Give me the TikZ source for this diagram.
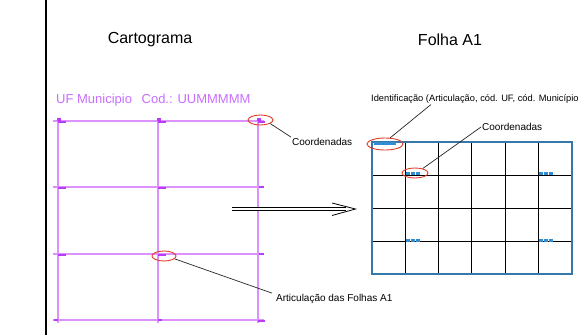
\documentclass[tikz,border=0pt]{standalone}
\usepackage{fontspec}
\setmainfont{Liberation Sans}
\usepackage{tikz}
\usetikzlibrary{shapes,positioning,calc}
\definecolor{gridpurple}{RGB}{220,145,255}
\definecolor{markpurple}{RGB}{185,60,250}
\definecolor{textpurple}{RGB}{200,110,255}
\definecolor{ringred}{RGB}{225,60,40}
\definecolor{frameblue}{RGB}{55,120,170}
\definecolor{markblue}{RGB}{50,140,210}
\tikzset{
  ring/.style={draw=ringred, ellipse, line width=0.9pt, inner sep=0pt},
  leader/.style={draw=black!85, line width=0.7pt},
  callout/.style={font=\fontsize{10}{12}\selectfont, inner sep=1pt, anchor=west},
  title/.style={font=\fontsize{16}{18}\selectfont},
  cgrid/.style={gridpurple, line width=1.5pt},
  cmark/.style={markpurple, line width=2pt},
}

\begin{document}
\begin{tikzpicture}[x=1pt,y=-1pt]
        \useasboundingbox (0,0) rectangle (584,335);
        % left rule
        \draw[line width=2.5pt] (46,0) -- (46,335);
        % titles
        \node[title] (cartograma) at (150,40) {Cartograma};
        \node[title] (folha) at (450,40) {Folha A1};
        \node[textpurple, font=\fontsize{13}{15}\selectfont, anchor=west, inner sep=0pt] (ufcod) at (56,100) {UF Municipio\hspace{6pt} Cod.: UUMMMMM};
        % cartograma grid
        \foreach \y in {121,187,254,320} \draw[cgrid] (53,\y) -- (264,\y);
        \foreach \x in {58,158,258} \draw[cgrid] (\x,118) -- (\x,323);
        \foreach \x in {58,158,258} \fill[markpurple] (\x-1.5,117.5) rectangle (\x+2.5,121);
        \foreach \x in {58,158} {
            \foreach \y in {122,188,255} \draw[cmark] (\x,\y) -- (\x+8,\y);
        }
        \draw[cmark] (258,122) -- (265,122);
        \draw[cmark] (258,321) -- (265,321);
        \foreach \y in {187,254} \draw[cmark] (259,\y) -- (264,\y);
        \foreach \x in {54,158} \draw[cmark] (\x,320) -- (\x+4,320);
        % folha A1 grid
        \foreach \k in {1,...,5} \draw[line width=1pt] (372+33.33*\k,142) -- (372+33.33*\k,274);
        \foreach \k in {1,2,3} \draw[line width=1pt] (372,142+33*\k) -- (572,142+33*\k);
        \draw[frameblue, line width=1.5pt] (372,142) rectangle (572,274);
        \draw[markblue, line width=3pt] (374,143.5) -- (396,143.5);
        \foreach \x/\y in {406/173,539/173,406/240,539/240}
            \draw[markblue, line width=3pt, dash pattern=on 4pt off 1pt] (\x,\y) -- (\x+15,\y);
        % arrow
        \coordinate (arrS) at (232,209);
        \coordinate (arrE) at (355.5,209);
        \draw[double, double distance=2.6pt, line width=0.8pt] (arrS) -- ($(arrE)+(-10,0)$);
        \draw[line width=0.8pt] (332,203) -- (arrE) -- (332,215.5);
        % rings and callouts
        \node[ring, minimum width=25pt, minimum height=10pt] (ringCL) at (260.5,120) {};
        \node[ring, minimum width=24pt, minimum height=10pt] (ringAL) at (164,256) {};
        \node[ring, minimum width=36pt, minimum height=12pt] (ringID) at (385,144) {};
        \node[ring, minimum width=26pt, minimum height=10pt] (ringCR) at (415,173) {};
        \node[callout] (coordL) at (291,142) {Coordenadas};
        \node[callout] (artic) at (275,299) {Articulação das Folhas A1};
        \node[callout, font=\fontsize{9.3}{11}\selectfont] (ident) at (370,99) {Identificação (Articulação, cód. UF, cód. Município};
        \node[callout] (coordR) at (481,127) {Coordenadas};
        \draw[leader] (ringCL.-20) -- (coordL.north west);
        \draw[leader] (ringAL.-15) -- ($(artic.north west)+(-3,0)$);
        \draw[leader] (ringID.50) -- ($(ident.south west)!0.29!(ident.south east)$);
        \draw[leader] (ringCR.30) -- (coordR.west);
    \end{tikzpicture}
\end{document}
